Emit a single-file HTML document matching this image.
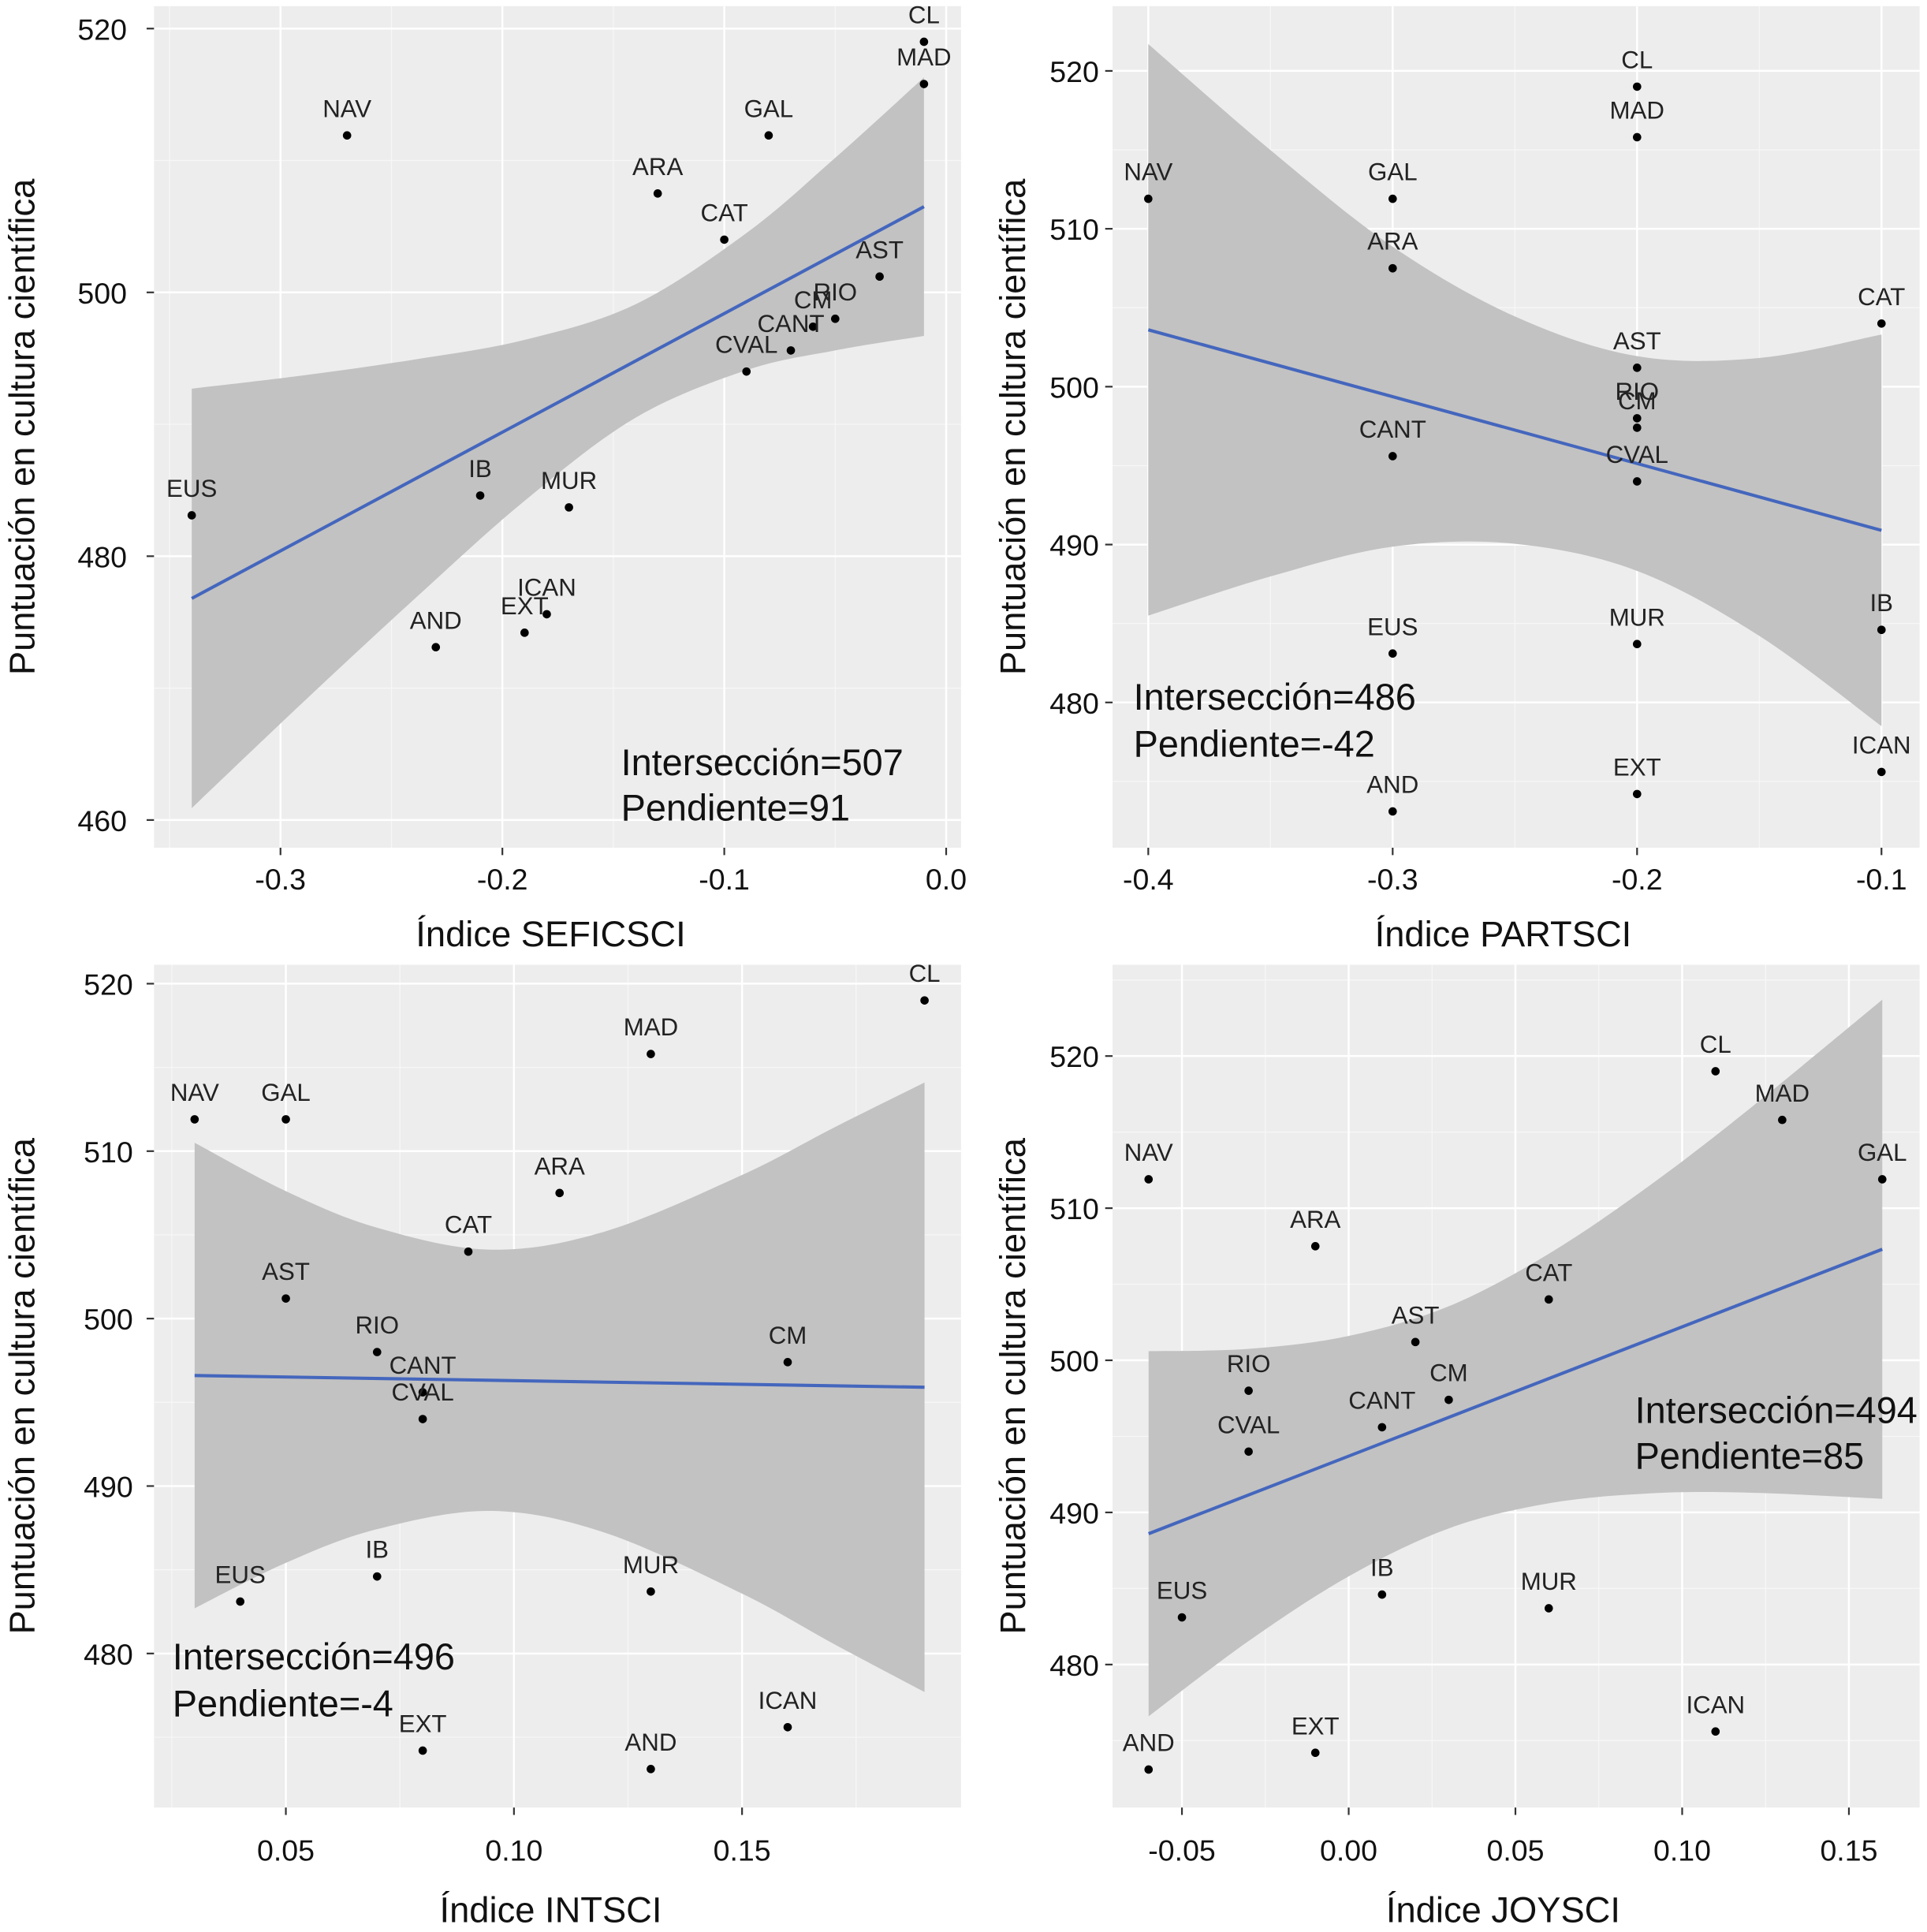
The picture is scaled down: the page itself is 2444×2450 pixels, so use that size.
<!DOCTYPE html>
<html><head><meta charset="utf-8"><style>
html,body{margin:0;padding:0;background:#fff;}
svg{display:block;}
text{font-family:"Liberation Sans",Arial,sans-serif;}
</style></head><body>
<svg id="chart" width="2444" height="2450" viewBox="0 0 1564 1568" preserveAspectRatio="none" xmlns="http://www.w3.org/2000/svg"></svg>
<script>
// ---- shared data ----
const regions = ["CL","MAD","NAV","GAL","ARA","CAT","AST","RIO","CM","CANT","CVAL","EUS","IB","MUR","ICAN","EXT","AND"];
const scores  = [519,515.8,511.9,511.9,507.5,504,501.2,498,497.4,495.6,494,483.1,484.6,483.7,475.6,474.2,473.1];
// ---- panel 1: SEFICSCI ----
const xSefic = [-0.01,-0.01,-0.27,-0.08,-0.13,-0.10,-0.03,-0.05,-0.06,-0.07,-0.09,-0.34,-0.21,-0.17,-0.18,-0.19,-0.23];
const lineSefic = [[-0.34,476.8],[-0.01,506.5]];
const bandXSefic = [-0.34,-0.29,-0.24,-0.19,-0.14,-0.09,-0.05,-0.01];
const bandHSefic = [15.9,12.4,9.1,6.1,4.3,5.2,7.3,9.8];
// ---- panel 2: PARTSCI ----
const xPart = [-0.2,-0.2,-0.4,-0.3,-0.3,-0.1,-0.2,-0.2,-0.2,-0.3,-0.2,-0.3,-0.1,-0.2,-0.1,-0.2,-0.3];
const linePart = [[-0.4,503.6],[-0.1,490.9]];
const bandXPart = [-0.4,-0.35,-0.3,-0.25,-0.2,-0.15,-0.1];
const bandHPart = [18.1,13.5,9.5,7.2,6.8,8.8,12.4];
// ---- panel 3: INTSCI ----
const xInt = [0.19,0.13,0.03,0.05,0.11,0.09,0.05,0.07,0.16,0.08,0.08,0.04,0.07,0.13,0.16,0.08,0.13];
const lineInt = [[0.03,496.6],[0.19,495.9]];
const bandXInt = [0.03,0.05,0.07,0.095,0.12,0.15,0.17,0.19];
const bandHInt = [13.9,11.1,9.0,7.8,9.0,12.5,15.4,18.2];
// ---- panel 4: JOYSCI ----
const xJoy = [0.11,0.13,-0.06,0.16,-0.01,0.06,0.02,-0.03,0.03,0.01,-0.03,-0.05,0.01,0.06,0.11,-0.01,-0.06];
const lineJoy = [[-0.06,488.6],[0.16,507.3]];
const bandXJoy = [-0.06,-0.03,0,0.03,0.06,0.09,0.12,0.16];
const bandHJoy = [12.0,9.6,7.9,7.3,8.2,10.1,12.6,16.4];
// tick labels
const xTicksSefic = [-0.3,-0.2,-0.1,0.0], xTickLabSefic = ["-0.3","-0.2","-0.1","0.0"];
const yTicksSefic = [460,480,500,520];
const xTicksPart = [-0.4,-0.3,-0.2,-0.1], xTickLabPart = ["-0.4","-0.3","-0.2","-0.1"];
const yTicksPart = [480,490,500,510,520];
const xTicksInt = [0.05,0.10,0.15], xTickLabInt = ["0.05","0.10","0.15"];
const yTicksInt = [480,490,500,510,520];
const xTicksJoy = [-0.05,0,0.05,0.10,0.15], xTickLabJoy = ["-0.05","0.00","0.05","0.10","0.15"];
const yTicksJoy = [480,490,500,510,520];

const NS="http://www.w3.org/2000/svg";
const svg=document.getElementById('chart');
function mk(tag,attrs,parent){const e=document.createElementNS(NS,tag);for(const k in attrs)e.setAttribute(k,attrs[k]);(parent||svg).appendChild(e);return e;}

const panels=[
 {key:"sefic",L:125,R:780,T:5,B:688,x0:-0.357,x1:0.0067,y0:457.9,y1:521.7,xs:xSefic,line:lineSefic,bx:bandXSefic,bh:bandHSefic,xt:xTicksSefic,xl:xTickLabSefic,yt:yTicksSefic,xMinor:[-0.35,-0.25,-0.15,-0.05],yMinor:[470,490,510],title:"Índice SEFICSCI",titleX:447,titleY:768,ylx:103,yTitleX:28,xly:722,ann:["Intersección=507","Pendiente=91"],annX:504,annY:[629,666]},
 {key:"part",L:903,R:1558,T:5,B:688,x0:-0.4146,x1:-0.0844,y0:470.8,y1:524.1,xs:xPart,line:linePart,bx:bandXPart,bh:bandHPart,xt:xTicksPart,xl:xTickLabPart,yt:yTicksPart,xMinor:[-0.35,-0.25,-0.15],yMinor:[475,485,495,505,515],title:"Índice PARTSCI",titleX:1220,titleY:768,ylx:892,yTitleX:832,xly:722,ann:["Intersección=486","Pendiente=-42"],annX:920,annY:[576,614]},
 {key:"int",L:125,R:780,T:783,B:1467,x0:0.0211,x1:0.198,y0:470.8,y1:521.13,xs:xInt,line:lineInt,bx:bandXInt,bh:bandHInt,xt:xTicksInt,xl:xTickLabInt,yt:yTicksInt,xMinor:[0.025,0.075,0.125,0.175],yMinor:[475,485,495,505,515],title:"Índice INTSCI",titleX:447,titleY:1560,ylx:108,yTitleX:28,xly:1510,ann:["Intersección=496","Pendiente=-4"],annX:140,annY:[1355,1393]},
 {key:"joy",L:903,R:1558,T:783,B:1467,x0:-0.0708,x1:0.1712,y0:470.6,y1:526.0,xs:xJoy,line:lineJoy,bx:bandXJoy,bh:bandHJoy,xt:xTicksJoy,xl:xTickLabJoy,yt:yTicksJoy,xMinor:[-0.075,-0.025,0.025,0.075,0.125],yMinor:[475,485,495,505,515,525],title:"Índice JOYSCI",titleX:1220,titleY:1560,ylx:892,yTitleX:832,xly:1510,ann:["Intersección=494","Pendiente=85"],annX:1327,annY:[1155,1192]}
];

panels.forEach(p=>{
  const X=v=>p.L+(v-p.x0)/(p.x1-p.x0)*(p.R-p.L);
  const Y=v=>p.B-(v-p.y0)/(p.y1-p.y0)*(p.B-p.T);
  const g=mk('g',{});
  
  
  const bg=mk('rect',{x:p.L,y:p.T,width:p.R-p.L,height:p.B-p.T,fill:'#ededed'},g);
  
  
  const clip=mk('clipPath',{id:'c'+p.key},g);
  mk('rect',{x:p.L,y:p.T,width:p.R-p.L,height:p.B-p.T},clip);
  const inner=mk('g',{'clip-path':'url(#c'+p.key+')'},g);
  p.xMinor.forEach(v=>{const l=mk('line',{x1:X(v),x2:X(v),y1:p.T,y2:p.B,stroke:'#f7f7f7','stroke-width':0.8},inner);});
  p.yMinor.forEach(v=>{const l=mk('line',{x1:p.L,x2:p.R,y1:Y(v),y2:Y(v),stroke:'#f7f7f7','stroke-width':0.8},inner);});
  p.xt.forEach(v=>{const l=mk('line',{x1:X(v),x2:X(v),y1:p.T,y2:p.B,stroke:'#fff','stroke-width':1.6},inner);});
  p.yt.forEach(v=>{const l=mk('line',{x1:p.L,x2:p.R,y1:Y(v),y2:Y(v),stroke:'#fff','stroke-width':1.6},inner);});
  const lx0=p.line[0][0],ly0=p.line[0][1],lx1=p.line[1][0],ly1=p.line[1][1];
  const fit=x=>ly0+(x-lx0)*(ly1-ly0)/(lx1-lx0);
  let up=[],lo=[];
  p.bx.forEach((x,i)=>{up.push([X(x),Y(fit(x)+p.bh[i])]);lo.push([X(x),Y(fit(x)-p.bh[i])]);});
  function smooth(pts){let d='M'+pts[0][0]+','+pts[0][1];for(let i=0;i<pts.length-1;i++){const p0=pts[Math.max(0,i-1)],p1=pts[i],p2=pts[i+1],p3=pts[Math.min(pts.length-1,i+2)];d+=' C'+(p1[0]+(p2[0]-p0[0])/6)+','+(p1[1]+(p2[1]-p0[1])/6)+' '+(p2[0]-(p3[0]-p1[0])/6)+','+(p2[1]-(p3[1]-p1[1])/6)+' '+p2[0]+','+p2[1];}return d;}
  const loR=lo.slice().reverse();
  let d=smooth(up)+' L'+loR[0][0]+','+loR[0][1]+smooth(loR).replace(/^M[^ C]+/,'')+' Z';
  const band=mk('path',{d:d,fill:'#c2c2c2'},inner);
  
  
  const ln=mk('line',{x1:X(lx0),y1:Y(ly0),x2:X(lx1),y2:Y(ly1),stroke:'#4466bd','stroke-width':2.6},inner);
  
  
  p.xs.forEach((xv,i)=>{
    const c=mk('circle',{cx:X(xv),cy:Y(scores[i]),r:3.4,fill:'#000'},g);
    
    
    const t=mk('text',{x:X(xv),y:Y(scores[i])-15,'font-size':20,'text-anchor':'middle',fill:'#222'},g);
    t.textContent=regions[i];
    
    
  });
  p.xt.forEach((v,i)=>{
    mk('line',{x1:X(v),x2:X(v),y1:p.B,y2:p.B+6,stroke:'#333','stroke-width':1.4},g);
    const t=mk('text',{x:X(v),y:p.xly,'font-size':24,'text-anchor':'middle',fill:'#111'},g);
    t.textContent=p.xl[i];
    
    
  });
  p.yt.forEach(v=>{
    mk('line',{x1:p.L-6,x2:p.L,y1:Y(v),y2:Y(v),stroke:'#333','stroke-width':1.4},g);
    const t=mk('text',{x:p.ylx,y:Y(v)+9,'font-size':24,'text-anchor':'end',fill:'#111'},g);
    t.textContent=String(v);
    
    
  });
  const xt=mk('text',{x:p.titleX,y:p.titleY,'font-size':29,'text-anchor':'middle',fill:'#111'},g);
  xt.textContent=p.title;
  
  
  const cy=(p.T+p.B)/2;
  const yt=mk('text',{x:p.yTitleX,y:cy,'font-size':29,'text-anchor':'middle',fill:'#111',transform:'rotate(-90 '+p.yTitleX+' '+cy+')'},g);
  yt.textContent='Puntuación en cultura científica';
  
  
  p.ann.forEach((s,i)=>{
    const a=mk('text',{x:p.annX,y:p.annY[i],'font-size':30,fill:'#111'},g);
    a.textContent=s;
    
    
  });
});
</script>
</body></html>
